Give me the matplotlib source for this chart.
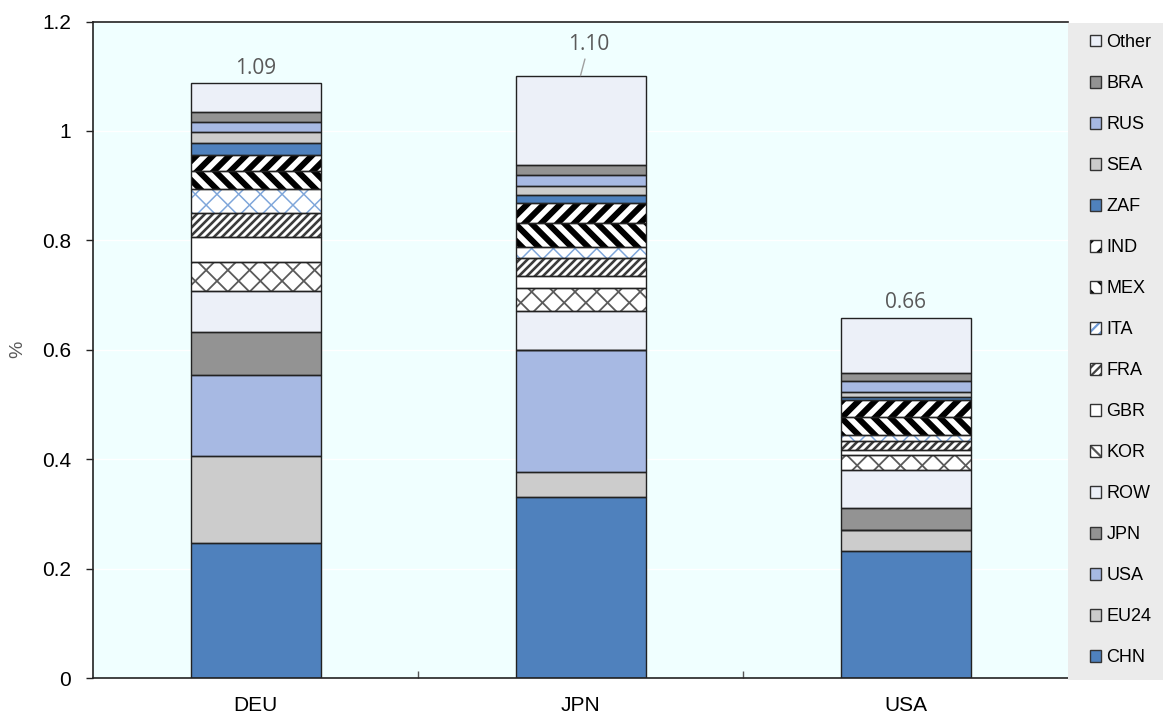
import matplotlib
matplotlib.use("Agg")
import matplotlib.pyplot as plt
from matplotlib.patches import Patch, Rectangle
from matplotlib.lines import Line2D
from matplotlib.transforms import IdentityTransform
import numpy as np

plt.rcParams["hatch.linewidth"] = 1.6

# Reporting economies on the x axis
countries = ["DEU", "JPN", "USA"]

# Partner contributions, stacked bottom to top (%)
partners = ["CHN", "EU24", "USA", "JPN", "ROW", "KOR", "GBR", "FRA",
            "ITA", "MEX", "IND", "ZAF", "SEA", "RUS", "BRA", "Other"]

chn   = [0.247, 0.330, 0.233]
eu24  = [0.159, 0.047, 0.037]
usa   = [0.148, 0.222, 0.000]
jpn   = [0.079, 0.000, 0.040]
row   = [0.075, 0.071, 0.071]
kor   = [0.052, 0.043, 0.027]
gbr   = [0.046, 0.021, 0.008]
fra   = [0.044, 0.033, 0.017]
ita   = [0.044, 0.020, 0.011]
mex   = [0.032, 0.045, 0.033]
ind   = [0.030, 0.036, 0.031]
zaf   = [0.022, 0.015, 0.006]
sea   = [0.020, 0.017, 0.009]
rus   = [0.018, 0.020, 0.020]
bra   = [0.018, 0.018, 0.014]
other = [0.053, 0.163, 0.101]

totals = [1.09, 1.10, 0.66]

series = [chn, eu24, usa, jpn, row, kor, gbr, fra, ita, mex, ind, zaf, sea, rus, bra, other]

fills = {
    "CHN": "#4F81BD", "EU24": "#CCCCCC", "USA": "#A7B9E3", "JPN": "#939393",
    "ROW": "#ECF0F8", "KOR": "#FFFFFF", "GBR": "#FFFFFF", "FRA": "#FFFFFF",
    "ITA": "#FFFFFF", "MEX": "#FFFFFF", "IND": "#FFFFFF", "ZAF": "#4F81BD",
    "SEA": "#CCCCCC", "RUS": "#A7B9E3", "BRA": "#939393", "Other": "#ECF0F8",
}

# Stripe patterns in screen pixels: list of (direction, period, width), colour
stripes = {
    "KOR": ([("/", 21.7, 1.8), ("\\", 21.7, 1.8)], "#5A5A5A"),
    "FRA": ([("/", 8.0, 2.6)], "#3C3C3C"),
    "ITA": ([("/", 21.7, 1.5), ("\\", 21.7, 1.5)], "#7FA6DA"),
    "MEX": ([("\\", 16.5, 6.0)], "#000000"),
    "IND": ([("/", 16.5, 6.0)], "#000000"),
}

# Small legend-key hatches
legend_hatch = {
    "KOR": ("\\\\\\", "#555555"),
    "FRA": ("////", "#444444"),
    "ITA": ("///", "#6F9AD6"),
    "MEX": ("\\\\", "#000000"),
    "IND": ("//", "#000000"),
}

EDGE = "#222222"
W, H = 1163, 715
fig = plt.figure(figsize=(W / 100, H / 100), dpi=100)
fig.patch.set_facecolor("white")

tick_font = ["Liberation Sans", "DejaVu Sans"]

ax = fig.add_axes([93 / W, 37 / H, 975 / W, 656.5 / H])
ax.set_facecolor("#F0FFFF")
ax.set_xlim(-0.5, 2.5)
ax.set_ylim(0, 1.2)


def add_stripes(patch, direction, period, width_px, color):
    """Draw continuous diagonal stripes clipped to a bar segment."""
    bb = patch.get_window_extent()
    if bb.height <= 0.5:
        return
    y0, y1 = bb.y0 - 5, bb.y1 + 5
    lw_pt = width_px * 72.0 / fig.dpi
    if direction == "/":
        kmin = int(np.floor((bb.x0 - y1) / period)) - 1
        kmax = int(np.ceil((bb.x1 - y0) / period)) + 1
    else:
        kmin = int(np.floor((bb.x0 + y0) / period)) - 1
        kmax = int(np.ceil((bb.x1 + y1) / period)) + 1
    for k in range(kmin, kmax + 1):
        c = k * period
        if direction == "/":
            xs = [y0 + c, y1 + c]
        else:
            xs = [c - y0, c - y1]
        ln = Line2D(xs, [y0, y1], transform=IdentityTransform(), color=color,
                    linewidth=lw_pt, solid_capstyle="butt", zorder=2.5)
        ax.add_artist(ln)
        ln.set_clip_path(patch.get_path(), patch.get_transform())


x = np.arange(len(countries))
bw = 0.4
bottom = np.zeros(len(countries))
for name, vals in zip(partners, series):
    vals = np.array(vals, dtype=float)
    bars = ax.bar(x, vals, bw, bottom=bottom, color=fills[name], linewidth=0, zorder=2)
    if name in stripes:
        specs, col = stripes[name]
        for b in bars:
            for d, p, wpx in specs:
                add_stripes(b, d, p, wpx, col)
    ax.bar(x, vals, bw, bottom=bottom, facecolor="none", edgecolor=EDGE,
           linewidth=1.0, zorder=3)
    bottom += vals

# Total labels above each bar
lab_font = ["Open Sans", "DejaVu Sans"]
offsets = [(0, 11), (6, 22.5), (0, 11)]
for xi, tot, top, (dx, dy) in zip(x, totals, bottom, offsets):
    if dy > 15:
        ax.annotate(f"{tot:.2f}", xy=(xi, top), xytext=(dx, dy),
                    textcoords="offset points", ha="center", va="center",
                    fontsize=15, color="#595959", family=lab_font,
                    arrowprops=dict(arrowstyle="-", color="#A0A0A0", lw=1,
                                    shrinkA=1, shrinkB=0), zorder=5)
    else:
        ax.annotate(f"{tot:.2f}", xy=(xi, top), xytext=(dx, dy),
                    textcoords="offset points", ha="center", va="center",
                    fontsize=15, color="#595959", family=lab_font, zorder=5)

ax.set_yticks(np.arange(0, 1.21, 0.2))
ax.set_yticklabels(["0", "0.2", "0.4", "0.6", "0.8", "1", "1.2"])
ax.yaxis.grid(True, color="white", linewidth=1.0, zorder=0)
ax.set_axisbelow(True)

ax.set_xticks(x)
ax.set_xticklabels(countries)
ax.set_xticks([0.5, 1.5], minor=True)
ax.tick_params(axis="x", which="major", length=0, pad=13,
               labelsize=15, labelfontfamily=tick_font, labelcolor="black")
ax.tick_params(axis="x", which="minor", direction="in", length=5, width=1, color="#555555")
ax.tick_params(axis="y", direction="out", length=5, width=1, pad=11, color="#222222",
               labelsize=15, labelfontfamily=tick_font, labelcolor="black")

for side in ("top", "left", "bottom"):
    ax.spines[side].set_color("#222222")
    ax.spines[side].set_linewidth(1.2)
ax.spines["right"].set_visible(False)

fig.text(18 / W, 1 - 349 / H, "%", rotation=90, ha="center", va="center",
         fontsize=14, color="#595959", family=tick_font)

# Grey legend panel on the right
fig.patches.append(Rectangle((1068 / W, 35 / H), 95 / W, (692 - 35) / H,
                             transform=fig.transFigure, facecolor="#EBEBEB",
                             edgecolor="none", zorder=0))

handles, labels = [], []
for name in reversed(partners):
    if name in legend_hatch:
        hatch, hc = legend_hatch[name]
        p1 = Patch(facecolor=fills[name], edgecolor=hc, hatch=hatch, linewidth=0)
        p2 = Patch(facecolor="none", edgecolor="#333333", linewidth=1.0)
        handles.append((p1, p2))
    else:
        handles.append(Patch(facecolor=fills[name], edgecolor="#333333", linewidth=1.0))
    labels.append(name)

leg = fig.legend(handles, labels, loc="upper left",
                 bbox_to_anchor=(1090 / W, 1 - 34 / H), frameon=False,
                 prop={"family": tick_font, "size": 13},
                 handlelength=0.62, handleheight=0.62, handletextpad=0.3,
                 labelspacing=1.33, borderpad=0, borderaxespad=0)

fig.savefig("out.png", dpi=100, facecolor="white")
